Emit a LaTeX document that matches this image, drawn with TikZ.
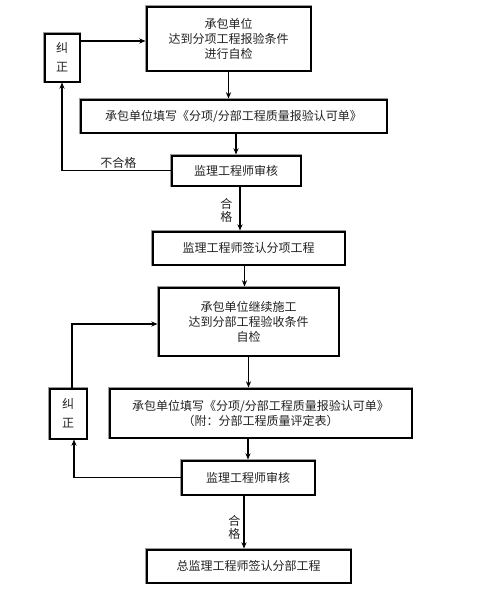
\documentclass[tikz,border=0pt]{standalone}
\usepackage{fontspec}
\newfontfamily\cjk{Noto Sans CJK SC}
\usetikzlibrary{arrows.meta, positioning, calc}
\definecolor{flowGray}{HTML}{9A9A9A}
\definecolor{flowText}{HTML}{222222}
\tikzset{
  arrowK/.style={-{Stealth[length=2.2mm, width=1.8mm]}, black, line width=1.3pt},
  boxK/.style={rectangle, draw=black, line width=2pt, fill=white,
               preaction={draw=flowGray, line width=3.6pt},
               align=center, font=\cjk\fontsize{12}{15}\selectfont,
               text=flowText, inner sep=0pt},
  boxJ/.style={boxK, font=\cjk\fontsize{12}{19}\selectfont},
  labelK/.style={font=\cjk\fontsize{12}{13}\selectfont, text=flowText,
                 inner sep=1pt, align=center},
}

\begin{document}
\begin{tikzpicture}[x=1pt, y=-1pt]
  \useasboundingbox (0,0) rectangle (480,600);
  % sub-item acceptance
  \node[boxK, minimum width=164pt, minimum height=64pt] (zj1) at (228.5,38.5)
    {承包单位\\达到分项工程报验条件\\进行自检};
  \node[boxJ, minimum width=35pt, minimum height=48pt] (jz1) at (62,57.5) {纠\\正};
  \node[boxK, minimum width=306pt, minimum height=33pt] (tb1) at (233.5,116)
    {承包单位填写《分项/分部工程质量报验认可单》};
  \node[boxK, minimum width=129pt, minimum height=30pt] (sh1) at (236,170.5)
    {监理工程师审核};
  \node[boxK, minimum width=192pt, minimum height=33pt] (qr1) at (248.5,248)
    {监理工程师签认分项工程};
  % sub-division acceptance
  \node[boxK, minimum width=180pt, minimum height=68pt] (zj2) at (248.5,321.5)
    {承包单位继续施工\\达到分部工程验收条件\\自检};
  \node[boxK, minimum width=302pt, minimum height=49pt] (tb2) at (260.5,413)
    {承包单位填写《分项/分部工程质量报验认可单》\\（附：分部工程质量评定表）};
  \node[boxJ, minimum width=37pt, minimum height=50pt] (jz2) at (68,413.5) {纠\\正};
  \node[boxK, minimum width=133pt, minimum height=34pt] (sh2) at (248,477.5)
    {监理工程师审核};
  \node[boxK, minimum width=204pt, minimum height=33pt] (qr2) at (248.5,566)
    {总监理工程师签认分部工程};

  \draw[arrowK] (zj1.south) -- (zj1.south |- tb1.north);
  \draw[arrowK] (sh1.north |- tb1.south) -- (sh1.north);
  \draw[arrowK] ([xshift=4pt]sh1.south) -- ([xshift=4pt]sh1.south |- qr1.north)
    node[labelK, pos=.55, left=6pt] {合\\格};
  \draw[arrowK] ([xshift=-4pt]qr1.south) -- ([xshift=-4pt]qr1.south |- zj2.north);
  \draw[arrowK] (zj2.south) -- (zj2.south |- tb2.north);
  \draw[arrowK] (sh2.north |- tb2.south) -- (sh2.north);
  \draw[arrowK] ([xshift=-4pt]sh2.south) -- ([xshift=-4pt]sh2.south |- qr2.north)
    node[labelK, pos=.6, left=2pt] {合\\格};

  % feedback loops
  \draw[arrowK] (sh1.west) -| (jz1.south) node[labelK, pos=.24, above] {不合格};
  \draw[arrowK] ([yshift=16.5pt]jz1.east) -- ([yshift=16.5pt]jz1.east -| zj1.west);
  \draw[arrowK] (sh2.west) -| ([xshift=6pt]jz2.south);
  \draw[arrowK] ([xshift=4pt]jz2.north) |- ([yshift=-2.5pt]zj2.west);
\end{tikzpicture}
\end{document}
